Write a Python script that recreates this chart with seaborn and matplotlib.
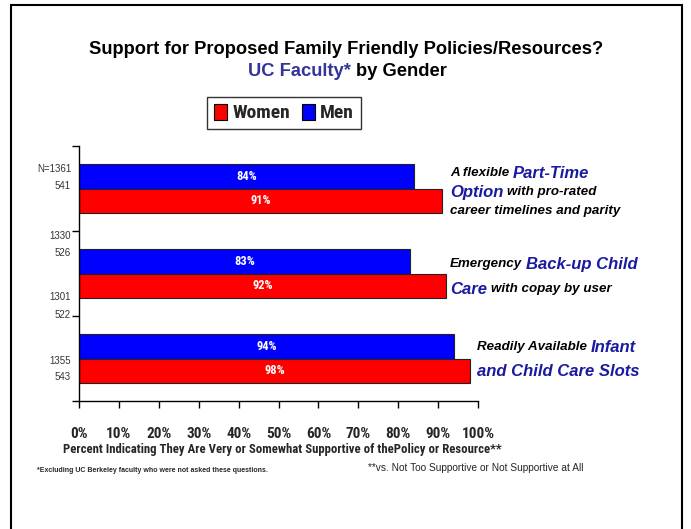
import os
import matplotlib
matplotlib.use('Agg')
import matplotlib.pyplot as plt
from matplotlib import font_manager
from matplotlib.font_manager import FontProperties
from matplotlib.patches import Rectangle, Patch
import seaborn as sns
import pandas as pd

# values
policies = ['Part-Time Option', 'Back-up Child Care', 'Infant and Child Care Slots']
women = [91, 92, 98]
men = [84, 83, 94]
n_labels = ['N=1361', '541', '1330', '526', '1301', '522', '1355', '543']

df = pd.DataFrame({
    'policy': policies * 2,
    'pct': men + women,
    'gender': ['Men'] * 3 + ['Women'] * 3,
})

# pick font files directly
files = {os.path.basename(f.fname): f.fname for f in font_manager.fontManager.ttflist}


def ffile(*names):
    for n in names:
        if n in files:
            return files[n]
    return None


F_REG = ffile('LiberationSans-Regular.ttf', 'DejaVuSans.ttf')
F_BOLD = ffile('LiberationSans-Bold.ttf', 'DejaVuSans-Bold.ttf')
F_BI = ffile('LiberationSans-BoldItalic.ttf', 'DejaVuSans-BoldOblique.ttf')

# condensed bold, like Arial Narrow, if any is installed
F_NBOLD = ffile('LiberationSansNarrow-Bold.ttf', 'RobotoCondensed-Bold.ttf', 'NotoSans-CondensedBold.ttf',
                'OpenSans-CondensedBold.ttf', 'OpenSans_Condensed-Bold.ttf')
if F_NBOLD is None:
    others = sorted(p for n, p in files.items()
                    if ('Narrow' in n or 'Condensed' in n) and 'Bold' in n
                    and not any(k in n for k in ('Italic', 'Semi', 'Extra')))
    F_NBOLD = others[0] if others else None
NSCALE = 1.0
if F_NBOLD is None:
    F_NBOLD = F_BOLD
    NSCALE = 0.86


def fp(path, size):
    return FontProperties(fname=path, size=size)


sns.set_style('white')
plt.rcParams['font.family'] = ['Liberation Sans', 'DejaVu Sans']

W, H, DPI = 691, 529, 100
fig = plt.figure(figsize=(W / DPI, H / DPI), dpi=DPI)
ax = fig.add_axes([79 / W, 1 - 401 / H, (478 - 79) / W, (401 - 146) / H])

sns.barplot(data=df, y='policy', x='pct', hue='gender', hue_order=['Men', 'Women'],
            palette={'Men': '#0000FF', 'Women': '#FF0000'}, orient='h', width=0.565,
            saturation=1, edgecolor='#222222', linewidth=0.8, legend=False, ax=ax)

for cont in ax.containers:
    ax.bar_label(cont, labels=[f'{b.get_width():.0f}%' for b in cont], label_type='center',
                 color='white', fontproperties=fp(F_NBOLD, 9 * NSCALE))

ax.set_xlim(0, 100)
ax.set_ylim(2.5, -0.5)
ax.set_xticks(range(0, 101, 10))
ax.set_xticklabels([f'{v}%' for v in range(0, 101, 10)], fontproperties=fp(F_NBOLD, 11 * NSCALE))
ax.set_yticks([-0.5, 0.5, 1.5, 2.5])
ax.set_yticklabels([])
ax.tick_params(axis='both', direction='out', length=5, width=1, color='black', left=True, bottom=True)
ax.tick_params(axis='x', pad=14)
ax.set_xlabel('')
ax.set_ylabel('')
for s in ['top', 'right']:
    ax.spines[s].set_visible(False)
for s in ['left', 'bottom']:
    ax.spines[s].set_color('black')
    ax.spines[s].set_linewidth(1)

renderer = fig.canvas.get_renderer()


def fx(px):
    return px / W


def fy(px):
    return 1 - px / H


def runs_line(runs, x_px, y_px, center=False):
    # draw text pieces of different styles one after another on one line
    arts = []
    for txt, path, size, color in runs:
        t = fig.text(0, fy(y_px), txt, va='center', ha='left', color=color, fontproperties=fp(path, size))
        arts.append((t, size))
    widths = [t.get_window_extent(renderer).width for t, _ in arts]
    gaps = [0.278 * min(arts[i][1], arts[i + 1][1]) * DPI / 72 for i in range(len(arts) - 1)]
    total = sum(widths) + sum(gaps)
    x = x_px - total / 2 if center else x_px
    for i, (t, _) in enumerate(arts):
        t.set_x(fx(x))
        x += widths[i] + (gaps[i] if i < len(gaps) else 0)


BLUE = '#1a1aa0'


def small(s):
    return (s, F_BI, 9.6, 'black')


def big(s):
    return (s, F_BI, 12, BLUE)


runs_line([small('A flexible'), big('Part-Time')], 450, 173)
runs_line([big('Option'), small('with pro-rated')], 450, 192)
runs_line([small('career timelines and parity')], 450, 211)
runs_line([small('Emergency'), big('Back-up Child')], 450, 264)
runs_line([big('Care'), small('with copay by user')], 450, 289)
runs_line([small('Readily Available'), big('Infant')], 477, 347)
runs_line([big('and Child Care Slots')], 477, 372)

# title
runs_line([('Support for Proposed Family Friendly Policies/Resources?', F_BOLD, 13.2, 'black')], 346, 49, center=True)
runs_line([('UC Faculty*', F_BOLD, 13.2, '#333399'), ('by Gender', F_BOLD, 13.2, 'black')], 347, 72, center=True)

# sample size labels
n_y = [169, 186, 236, 253, 297, 315, 361, 377]
for lab, yy in zip(n_labels, n_y):
    fig.text(fx(71), fy(yy), lab, ha='right', va='center', color='#333333', fontproperties=fp(F_REG, 7))

# legend
handles = [Patch(facecolor='#FF0000', edgecolor='black', lw=0.8, label='Women'),
           Patch(facecolor='#0000FF', edgecolor='black', lw=0.8, label='Men')]
leg = fig.legend(handles=handles, ncol=2, loc='center', bbox_to_anchor=(fx(284), fy(113)),
                 frameon=True, fancybox=False, edgecolor='black', handlelength=0.7, handleheight=0.9,
                 handletextpad=0.25, columnspacing=0.6, borderpad=0.35, borderaxespad=0,
                 prop=fp(F_NBOLD, 14 * NSCALE))
leg.get_frame().set_linewidth(1)

fig.text(fx(282), fy(449), 'Percent Indicating They Are Very or Somewhat Supportive of thePolicy or Resource**',
         ha='center', va='center', fontproperties=fp(F_NBOLD, 9.2 * NSCALE))
fig.text(fx(37), fy(470), '*Excluding UC Berkeley faculty who were not asked these questions.',
         ha='left', va='center', fontproperties=fp(F_BOLD, 5))
fig.text(fx(368), fy(468), '**vs. Not Too Supportive or Not Supportive at All',
         ha='left', va='center', fontproperties=fp(F_REG, 7.3))

# slide frame
fig.add_artist(Rectangle((fx(11), -0.05), fx(682) - fx(11), fy(5) + 0.05, transform=fig.transFigure,
                         fill=False, edgecolor='black', lw=1.5))

fig.savefig('out.png', dpi=DPI)
